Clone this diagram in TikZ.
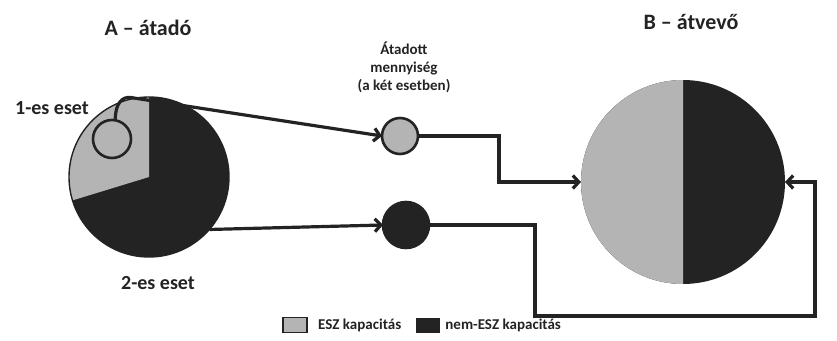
\documentclass[tikz,border=0pt]{standalone}
\usepackage{fontspec}
\setmainfont{Carlito}
\usetikzlibrary{arrows.meta,positioning}
\definecolor{eszgray}{HTML}{B4B4B4}
\definecolor{nemesz}{HTML}{232323}

\begin{document}
\begin{tikzpicture}[
    x=1pt, y=1pt,
    pie/.style={circle, inner sep=0pt, outer sep=0pt},
    qty/.style={circle, draw=nemesz, line width=2.6pt, inner sep=0pt, outer sep=0pt},
    arrow/.style={-{Straight Barb[length=6pt, width=13pt]}, line width=3.2pt, draw=nemesz},
    title/.style={font=\bfseries\fontsize{22}{24}\selectfont, text=nemesz},
    caselabel/.style={font=\bfseries\fontsize{20}{23}\selectfont, text=nemesz},
    midlabel/.style={font=\bfseries\fontsize{15}{18}\selectfont, text=nemesz, align=center},
    legbox/.style={rectangle, minimum width=24pt, minimum height=15pt, inner sep=0pt},
    legtext/.style={font=\bfseries\fontsize{15}{17}\selectfont, text=nemesz, inner sep=0pt}
]
\useasboundingbox (0,0) rectangle (837,340);

% Cimek
\node[title] (titleA) at (148,312) {A – átadó};
\node[title] (titleB) at (691,318) {B – átvevő};

% A - atado kordiagram
\node[pie, minimum size=160pt] (pieA) at (149,163) {};
\fill[nemesz] (pieA.center) circle[radius=80];
\fill[eszgray] (pieA.center) -- (pieA.90) arc[start angle=90, end angle=197, radius=80] -- cycle;
\draw[nemesz, line width=1.4pt] (pieA.center) circle[radius=80];
\node[qty, fill=eszgray, minimum size=38pt] (caseone) at (112,201) {};

% B - atvevo kordiagram
\node[pie, minimum size=204pt] (pieB) at (683,158) {};
\fill[nemesz] (pieB.center) circle[radius=102];
\fill[eszgray] (pieB.center) -- (pieB.90) arc[start angle=90, end angle=270, radius=102] -- cycle;

% Atadott mennyiseg
\node[qty, fill=eszgray, minimum size=36pt] (lightq) at (400,204) {};
\node[qty, fill=nemesz, minimum size=46pt] (darkq) at (406,115) {};
\node[midlabel] (qtylabel) at (404,273) {Átadott\\mennyiség\\(a két esetben)};

% Esetek
\node[caselabel] (caseonelabel) at (52,232) {1-es eset};
\node[caselabel] (casetwolabel) at (158,57) {2-es eset};

% Nyilak
\draw[arrow, rounded corners=4pt] (caseone.80) .. controls (115,236) and (122,244) .. (pieA.100) -- (lightq.west);
\draw[arrow] (pieA.-41) -- (darkq.west);
\draw[arrow] (lightq.east) -- ++(81,0) |- (pieB.west);
\coordinate (loopcorner) at (815,24);
\draw[arrow] (darkq.east) -- ++(106,0) |- (loopcorner) |- (pieB.east);

% Jelmagyarazat
\node[legbox, fill=eszgray, draw=nemesz, line width=1.8pt] (leglight) at (295,15) {};
\node[legtext, right=10pt of leglight] (leglighttext) {ESZ kapacitás};
\node[legbox, fill=nemesz] (legdark) at (428,15) {};
\node[legtext, right=5pt of legdark] (legdarktext) {nem-ESZ kapacitás};

\end{tikzpicture}
\end{document}
